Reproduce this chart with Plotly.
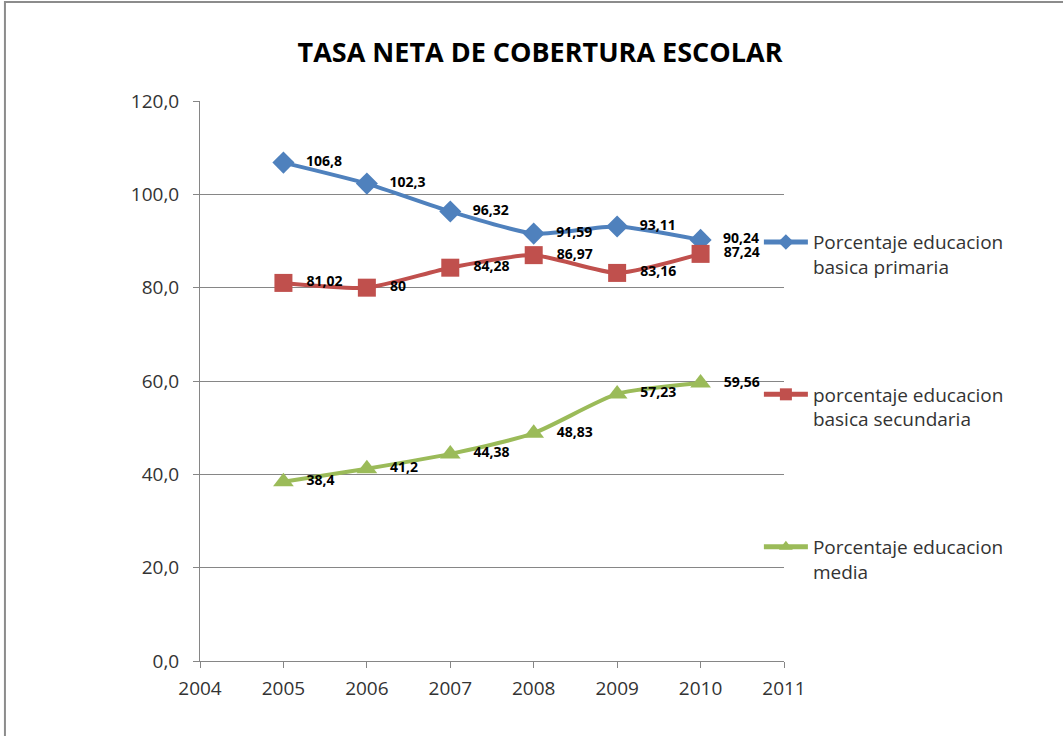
import plotly.graph_objects as go

years = [2005, 2006, 2007, 2008, 2009, 2010]
primaria = [106.8, 102.3, 96.32, 91.59, 93.11, 90.24]
secundaria = [81.02, 80, 84.28, 86.97, 83.16, 87.24]
media = [38.4, 41.2, 44.38, 48.83, 57.23, 59.56]
labels_primaria = ["106,8", "102,3", "96,32", "91,59", "93,11", "90,24"]
labels_secundaria = ["81,02", "80", "84,28", "86,97", "83,16", "87,24"]
labels_media = ["38,4", "41,2", "44,38", "48,83", "57,23", "59,56"]

FONT = "Open Sans, sans-serif"

series = [
    ("Porcentaje educacion<br>basica primaria", primaria, labels_primaria, "#4F81BD", "diamond", 17),
    ("porcentaje educacion<br>basica secundaria", secundaria, labels_secundaria, "#C0504D", "square", 18),
    ("Porcentaje educacion<br>media", media, labels_media, "#9BBB59", "triangle-up", 18),
]

fig = go.Figure()
for i, (name, vals, labs, col, sym, sz) in enumerate(series):
    fig.add_trace(go.Scatter(
        x=years, y=vals, name=name, legendgroup=f"g{i}",
        mode="lines+markers+text",
        text=["   " + t for t in labs], textposition="middle right",
        textfont=dict(family=FONT, size=14, color="#000000", weight="bold"),
        line=dict(color=col, width=4, shape="spline", smoothing=0.6),
        marker=dict(symbol=sym, size=sz, color=col),
    ))

fig.update_layout(
    width=1063, height=736,
    margin=dict(l=200, r=279, t=101, b=75),
    paper_bgcolor="white", plot_bgcolor="white",
    separators=",.",
    title=dict(text="<b>TASA NETA DE COBERTURA ESCOLAR</b>", x=0.508, xanchor="center",
               y=0.928, yanchor="middle",
               font=dict(family=FONT, size=27, color="#000000")),
    font=dict(family=FONT, size=17, color="#333333"),
    showlegend=True,
    legend=dict(x=0.957, xanchor="left", y=0.782, yanchor="top",
                traceorder="grouped", tracegroupgap=100, valign="top",
                itemsizing="constant",
                font=dict(family=FONT, size=19, color="#333333"),
                itemwidth=44, bgcolor="rgba(0,0,0,0)"),
    xaxis=dict(range=[2004, 2011], dtick=1, tick0=2004, showgrid=False,
               showline=True, linecolor="#868686", linewidth=1,
               ticks="outside", ticklen=6, tickcolor="#868686",
               ticklabelstandoff=4,
               tickfont=dict(family=FONT, size=19, color="#333333"), zeroline=False),
    yaxis=dict(range=[0, 120], dtick=20, tickformat=".1f", showgrid=True,
               gridcolor="#868686", gridwidth=1,
               showline=True, linecolor="#868686", linewidth=1,
               ticks="outside", ticklen=6, tickcolor="#868686",
               ticklabelstandoff=10,
               tickfont=dict(family=FONT, size=19, color="#333333"), zeroline=False),
    shapes=[dict(type="rect", xref="paper", yref="paper",
                 x0=-0.334, x1=2.0, y0=-0.6, y1=1.177,
                 line=dict(color="#8C8C8C", width=2), layer="below")],
)

fig.write_html("out.html", config={"displayModeBar": False},
               post_script="document.body.style.margin='0px';")
